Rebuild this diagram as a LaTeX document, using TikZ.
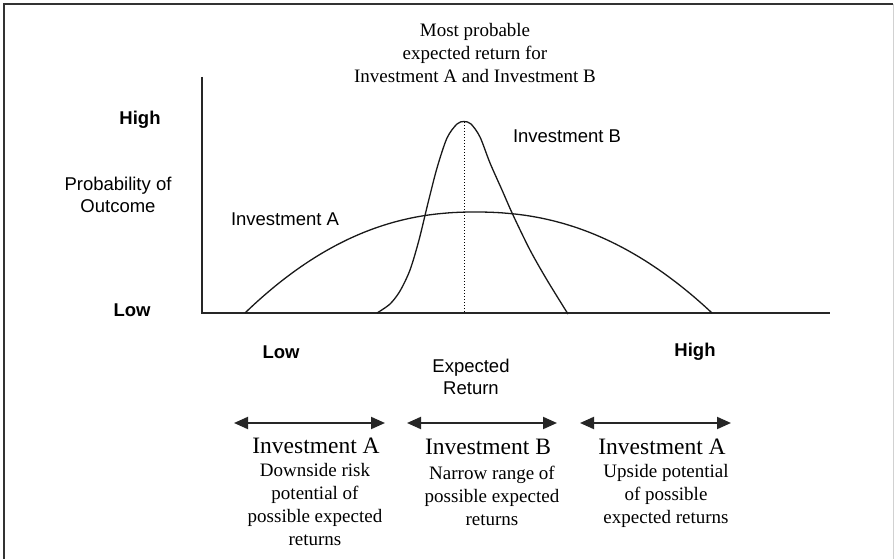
\documentclass[tikz,border=0pt]{standalone}
\usepackage{fontspec}
\setmainfont{Liberation Serif}
\setsansfont{Liberation Sans}
\usetikzlibrary{arrows.meta}
\begin{document}
\begin{tikzpicture}[x=1pt,y=-1pt,
  serif/.style={font=\rmfamily\fontsize{19}{23}\selectfont, align=center, inner sep=0pt},
  serifbig/.style={font=\rmfamily\fontsize{23.5}{27}\selectfont, align=center, inner sep=0pt},
  sanslab/.style={font=\sffamily\fontsize{18.5}{22}\selectfont, align=center, inner sep=0pt},
  sansbold/.style={font=\sffamily\bfseries\fontsize{18.5}{22}\selectfont, align=center, inner sep=0pt},
  curve/.style={line width=1.3pt, black!90},
  rangearrow/.style={line width=2pt, black!85, {Triangle[length=14pt,width=12pt]}-{Triangle[length=14pt,width=12pt]}},
  axisline/.style={line width=1.5pt, black!85}
]
\useasboundingbox (0,0) rectangle (894,559);
\fill[white] (0,0) rectangle (894,559);
% frame
\draw[line width=2pt, black!80] (4,559) -- (4,4) -- (893,4);
\draw[line width=1pt, black!18] (893,4) -- (893,559);

% axes
\coordinate (ytop) at (202,77);
\coordinate (origin) at (202,313);
\coordinate (xend) at (830,313);
\draw[axisline] (ytop) -- (origin) -- (xend);

% curve A (broad)
\draw[curve] plot[domain=245:475, samples=70, smooth] (\x, {313-101*(1-((475-\x)/230)^2.2)})
  -- plot[domain=475:712, samples=70, smooth] (\x, {313-101*(1-((\x-475)/237)^2.2)});
% curve B (narrow)
\draw[curve] plot[smooth, tension=0.5] coordinates {(377,313) (390,304) (400,291) (410,270) (419,240) (428,203) (437,168) (447,138) (457,124) (464,121.5) (471,124) (480,137) (490,163) (502,190) (513,215) (530,250) (547,280) (568,314)};

% dotted line
\coordinate (pk) at (464,122);
\coordinate (pkb) at (464,313);
\draw[dotted, line width=1pt] (pk) -- (pkb);

% top text
\node[serif] (top) at (475,53) {Most probable\\expected return for\\Investment A and Investment B};

% y-axis labels
\node[sansbold] (yhigh) at (140,120) {High};
\node[sanslab] (ylab) at (118,195) {Probability of\\Outcome};
\node[sansbold] (ylow) at (132,310) {Low};

% curve labels
\node[sanslab] (labA) at (285,219) {Investment A};
\node[sanslab] (labB) at (567,136) {Investment B};

% x-axis labels
\node[sansbold] (xlow) at (281,352) {Low};
\node[sansbold] (xhigh) at (695,352) {High};
\node[sanslab] (xlab) at (471,377) {Expected\\Return};

% range arrows
\coordinate (a1l) at (234,423); \coordinate (a1r) at (385,423);
\coordinate (a2l) at (407,423); \coordinate (a2r) at (557,423);
\coordinate (a3l) at (580,423); \coordinate (a3r) at (731,423);
\draw[rangearrow] (a1l) -- (a1r);
\draw[rangearrow] (a2l) -- (a2r);
\draw[rangearrow] (a3l) -- (a3r);

% bottom texts
\node[serifbig] (t1) at (316,446) {Investment A};
\node[serif] (d1) at (315,504.5) {Downside risk\\potential of\\possible expected\\returns};
\node[serifbig] (t2) at (488,447) {Investment B};
\node[serif] (d2) at (492,496) {Narrow range of\\possible expected\\returns};
\node[serifbig] (t3) at (662,447) {Investment A};
\node[serif] (d3) at (666,496) {Upside potential\\of possible\\expected returns};
\end{tikzpicture}
\end{document}
